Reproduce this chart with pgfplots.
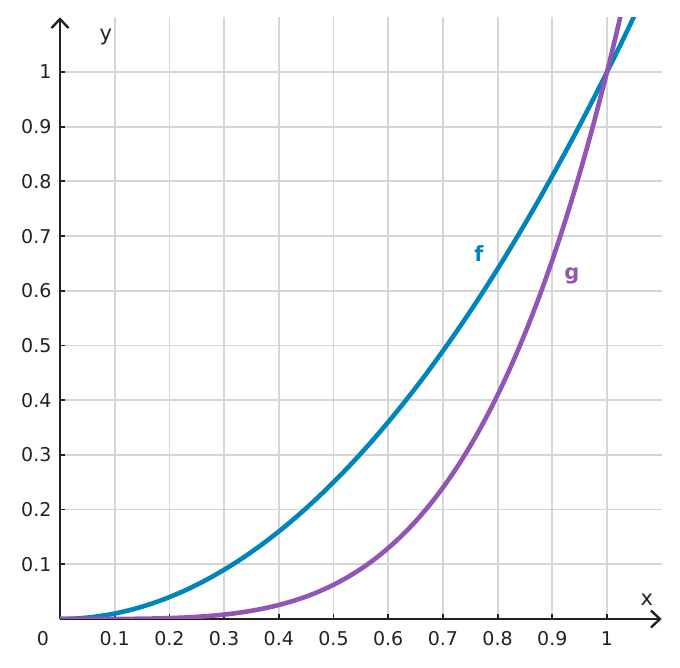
\documentclass[border=0pt]{standalone}
\usepackage{pgfplots}
\pgfplotsset{compat=1.18}
\usepackage{fontspec}
\setmainfont{DejaVu Sans}
\usetikzlibrary{arrows.meta}
\definecolor{fblue}{RGB}{0,133,186}
\definecolor{gpurple}{RGB}{145,85,180}
\definecolor{axdark}{RGB}{34,34,34}
\definecolor{gridgray}{RGB}{214,214,214}
\begin{document}
\begin{tikzpicture}
\path (-60pt,-49pt) rectangle (620pt,619pt);
\begin{axis}[
  at={(0,0)}, anchor=origin,
  x=547pt, y=547pt,
  xmin=0, xmax=1.1, ymin=0, ymax=1.1,
  axis lines=middle,
  axis line style={line width=2.8pt, color=axdark, -{Straight Barb[length=9pt,width=17pt,line width=2.4pt]}},
  xtick={0.1,0.2,0.3,0.4,0.5,0.6,0.7,0.8,0.9,1},
  ytick={0.1,0.2,0.3,0.4,0.5,0.6,0.7,0.8,0.9,1},
  grid=major,
  major grid style={line width=1.8pt, color=gridgray},
  tick align=inside,
  major tick length=5pt,
  tick style={line width=1.8pt, color=axdark},
  /pgf/number format/assume math mode=true,
  ticklabel style={font=\fontsize{19}{23}\selectfont, text=axdark},
  xticklabel style={yshift=-9pt},
  yticklabel style={xshift=-5pt},
  clip mode=individual,
]
\addplot[fblue, line width=4.6pt, smooth] coordinates {
(0,0) (0.025,0.000625) (0.05,0.0025) (0.075,0.005625) (0.1,0.01) (0.125,0.015625)
(0.15,0.0225) (0.175,0.030625) (0.2,0.04) (0.225,0.050625) (0.25,0.0625)
(0.275,0.075625) (0.3,0.09) (0.325,0.105625) (0.35,0.1225) (0.375,0.140625)
(0.4,0.16) (0.425,0.180625) (0.45,0.2025) (0.475,0.225625) (0.5,0.25)
(0.525,0.275625) (0.55,0.3025) (0.575,0.330625) (0.6,0.36) (0.625,0.390625)
(0.65,0.4225) (0.675,0.455625) (0.7,0.49) (0.725,0.525625) (0.75,0.5625)
(0.775,0.600625) (0.8,0.64) (0.825,0.680625) (0.85,0.7225) (0.875,0.765625)
(0.9,0.81) (0.925,0.855625) (0.95,0.9025) (0.975,0.950625) (1,1)
(1.025,1.050625) (1.05,1.1025)
};
\addplot[gpurple, line width=4.6pt, smooth] coordinates {
(0,0) (0.025,0.0000004) (0.05,0.00000625) (0.075,0.0000316) (0.1,0.0001)
(0.125,0.000244) (0.15,0.000506) (0.175,0.000938) (0.2,0.0016) (0.225,0.002563)
(0.25,0.003906) (0.275,0.005719) (0.3,0.0081) (0.325,0.011157) (0.35,0.015006)
(0.375,0.019775) (0.4,0.0256) (0.425,0.032625) (0.45,0.041006) (0.475,0.050907)
(0.5,0.0625) (0.525,0.075969) (0.55,0.091506) (0.575,0.109313) (0.6,0.1296)
(0.625,0.152588) (0.65,0.178506) (0.675,0.207594) (0.7,0.2401) (0.725,0.276282)
(0.75,0.316406) (0.775,0.36075) (0.8,0.4096) (0.825,0.46325) (0.85,0.522006)
(0.875,0.586182) (0.9,0.6561) (0.925,0.732094) (0.95,0.814506) (0.975,0.903688)
(1,1) (1.0125,1.050945) (1.025,1.103813) (1.05,1.215506)
};
\node[text=fblue, font=\fontsize{21}{25}\selectfont\bfseries] at (axis cs:0.766,0.669) {f};
\node[text=gpurple, font=\fontsize{21}{25}\selectfont\bfseries] at (axis cs:0.936,0.627) {g};
\node[text=axdark, font=\fontsize{21}{25}\selectfont] at (axis cs:0.084,1.064) {y};
\node[text=axdark, font=\fontsize{21}{25}\selectfont] at (axis cs:1.073,0.035) {x};
\node[text=axdark, font=\fontsize{19}{23}\selectfont] at (axis cs:-0.031,-0.035) {0};
\end{axis}
\end{tikzpicture}
\end{document}
